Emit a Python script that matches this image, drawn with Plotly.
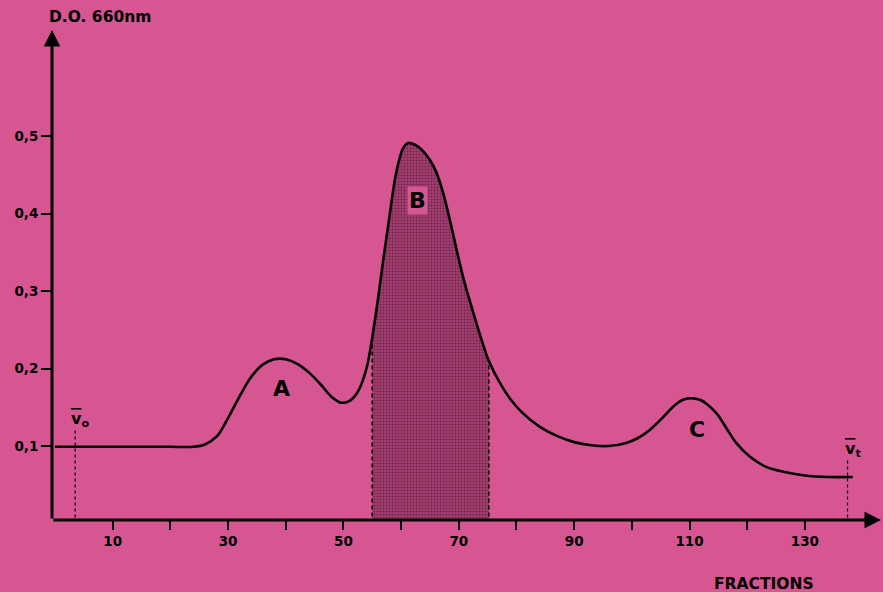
import numpy as np
import plotly.graph_objects as go

# ---- data ----
fractions = [0, 10, 20, 24, 26, 28, 30, 32, 34, 36, 38, 40, 42, 44, 46, 48, 49.5, 51, 52.5,
             54, 55, 56, 57, 58, 59, 59.7, 60.4, 61.2, 62, 63, 64, 65, 66, 67, 68, 69, 70,
             71, 72, 73, 74, 75.2, 77, 79, 81, 84, 87, 90, 93, 96, 99, 101, 103, 105, 107.5,
             109, 110.6, 112, 113.2, 114.7, 116.4, 118.1, 120.5, 123.3, 126.7, 130, 134, 138.3]
absorbance = [0.099, 0.099, 0.099, 0.099, 0.102, 0.112, 0.136, 0.164, 0.189, 0.205, 0.212,
              0.212, 0.206, 0.195, 0.180, 0.163, 0.156, 0.158, 0.170, 0.200, 0.240, 0.290,
              0.345, 0.397, 0.447, 0.470, 0.485, 0.491, 0.490, 0.486, 0.479, 0.469, 0.455,
              0.434, 0.406, 0.374, 0.341, 0.311, 0.285, 0.260, 0.236, 0.210, 0.183, 0.160,
              0.143, 0.125, 0.113, 0.105, 0.101, 0.100, 0.104, 0.110, 0.120, 0.134, 0.153,
              0.160, 0.1615, 0.159, 0.153, 0.142, 0.123, 0.104, 0.086, 0.073, 0.066, 0.062,
              0.060, 0.060]

shade_start, shade_end = 55.0, 75.2
v0_fraction, vt_fraction = 3.5, 137.4
v0_top, vt_top = 0.12, 0.082

x_tick_vals = list(range(10, 140, 10))
x_tick_text = [str(v) if (v // 10) % 2 == 1 else "" for v in x_tick_vals]
y_tick_vals = [0.1, 0.2, 0.3, 0.4, 0.5]
y_tick_text = ["0,1", "0,2", "0,3", "0,4", "0,5"]

peak_labels = ["A", "B", "C"]
peak_x = [39.3, 62.9, 111.3]
peak_y = [0.174, 0.417, 0.121]

# ---- styling ----
BG = "#d55691"
FONT = "DejaVu Sans"
X_RANGE = [-0.52, 143.2]
Y_RANGE = [0.0045, 0.6368]

fx = np.array(fractions)
fy = np.array(absorbance)
mask = (fx >= shade_start) & (fx <= shade_end)

fig = go.Figure()

fig.add_trace(go.Scatter(
    x=fx[mask], y=fy[mask], mode="lines", line=dict(width=0, shape="spline"),
    fill="tozeroy", fillcolor="rgba(0,0,0,0)",
    fillpattern=dict(shape=".", fgcolor="#3a0f2c", bgcolor="#b44579", size=3, solidity=0.5),
    hoverinfo="skip", showlegend=False))

fig.add_trace(go.Scatter(
    x=fx, y=fy, mode="lines", line=dict(color="black", width=2.6, shape="spline"),
    hoverinfo="skip", showlegend=False))

shapes = []
for xv in (shade_start, shade_end):
    shapes.append(dict(type="line", xref="x", yref="y", x0=xv, x1=xv, y0=0,
                       y1=float(np.interp(xv, fx, fy)),
                       line=dict(color="black", width=1.6, dash="4px,3px"), layer="above"))
for xv, top in ((v0_fraction, v0_top), (vt_fraction, vt_top)):
    shapes.append(dict(type="line", xref="x", yref="y", x0=xv, x1=xv, y0=0, y1=top,
                       line=dict(color="black", width=1.2, dash="3px,3px"), layer="above"))

annotations = []
# axis lines with arrowheads
annotations.append(dict(x=X_RANGE[1], y=Y_RANGE[0], ax=X_RANGE[0], ay=Y_RANGE[0],
                        xref="x", yref="y", axref="x", ayref="y", text="", showarrow=True,
                        arrowhead=2, arrowsize=1.1, arrowwidth=3, arrowcolor="black",
                        standoff=0, startstandoff=0))
annotations.append(dict(x=X_RANGE[0], y=Y_RANGE[1], ax=X_RANGE[0], ay=Y_RANGE[0],
                        xref="x", yref="y", axref="x", ayref="y", text="", showarrow=True,
                        arrowhead=2, arrowsize=1.1, arrowwidth=3, arrowcolor="black",
                        standoff=0, startstandoff=0))
for lab, px_, py_ in zip(peak_labels, peak_x, peak_y):
    annotations.append(dict(x=px_, y=py_, xref="x", yref="y", text=lab, showarrow=False,
                            font=dict(family=FONT, size=22, color="black", weight="bold"),
                            bgcolor=BG if lab == "B" else None))
annotations.append(dict(x=4.3, y=0.134, xref="x", yref="y", xanchor="center",
                        text="<span style='text-decoration:overline'>v</span><sub>o</sub>",
                        showarrow=False, font=dict(family=FONT, size=16, color="black", weight="bold")))
annotations.append(dict(x=138.3, y=0.096, xref="x", yref="y", xanchor="center",
                        text="<span style='text-decoration:overline'>v</span><sub>t</sub>",
                        showarrow=False, font=dict(family=FONT, size=16, color="black", weight="bold")))
annotations.append(dict(x=0.0579, y=1.0265, xref="paper", yref="paper", xanchor="center",
                        yanchor="middle", text="D.O. 660nm",
                        showarrow=False, font=dict(family=FONT, size=15.5, color="black", weight="bold")))
annotations.append(dict(x=0.859, y=-0.1306, xref="paper", yref="paper", xanchor="center",
                        yanchor="middle", text="FRACTIONS",
                        showarrow=False, font=dict(family=FONT, size=15.5, color="black", weight="bold")))

fig.update_layout(
    width=883, height=592,
    margin=dict(l=52, r=2, t=30, b=72),
    paper_bgcolor=BG, plot_bgcolor=BG,
    shapes=shapes, annotations=annotations,
    xaxis=dict(range=X_RANGE, tickvals=x_tick_vals, ticktext=x_tick_text,
               ticks="outside", ticklen=9, tickwidth=2, tickcolor="black",
               showline=False, showgrid=False, zeroline=False,
               tickfont=dict(family=FONT, size=13.5, color="black", weight="bold")),
    yaxis=dict(range=Y_RANGE, tickvals=y_tick_vals, ticktext=y_tick_text,
               ticks="outside", ticklen=10, tickwidth=2, tickcolor="black",
               showline=False, showgrid=False, zeroline=False,
               tickfont=dict(family=FONT, size=13.5, color="black", weight="bold")),
)

fig.write_html("out.html", config={"displayModeBar": False},
               post_script="document.body.style.margin='0';")
